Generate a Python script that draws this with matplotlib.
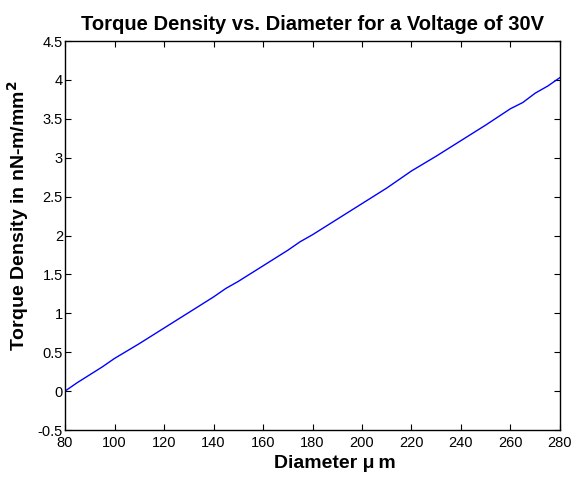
import matplotlib.pyplot as plt

plt.rcParams['font.family'] = ['Liberation Sans', 'DejaVu Sans']

# values
diametro = [80, 85, 90, 95, 100, 110, 120, 130, 140, 145, 150, 160, 170, 175, 180,
            190, 200, 210, 220, 230, 240, 250, 260, 265, 270, 275, 280]
torque = [0.0, 0.11, 0.21, 0.31, 0.42, 0.61, 0.81, 1.01, 1.21, 1.32, 1.41, 1.61, 1.81, 1.92, 2.01,
          2.21, 2.41, 2.61, 2.83, 3.02, 3.22, 3.42, 3.63, 3.71, 3.83, 3.92, 4.03]

fig = plt.figure(figsize=(5.77, 4.78), dpi=100)
ax = fig.add_axes([0.1127, 0.1004, 0.8578, 0.8138])

ax.plot(diametro, torque, color='#0000ff', linewidth=1)

ax.set_xlim(80, 280)
ax.set_ylim(-0.5, 4.5)
ax.set_xticks(range(80, 281, 20))
ax.set_yticks([-0.5, 0, 0.5, 1, 1.5, 2, 2.5, 3, 3.5, 4, 4.5])
ax.set_yticklabels(['-0.5', '0', '0.5', '1', '1.5', '2', '2.5', '3', '3.5', '4', '4.5'])
ax.tick_params(direction='in', top=True, right=True, labelsize=10.5, length=4, width=0.8)
ax.tick_params(axis='x', pad=4)
ax.tick_params(axis='y', pad=1.5)
for s in ax.spines.values():
    s.set_linewidth(1)

ax.set_title('Torque Density vs. Diameter for a Voltage of 30V', fontsize=14.5, fontweight='bold', pad=8)
ax.set_xlabel('Diameter μ\u2009m', fontsize=14, fontweight='bold')
ax.set_ylabel(r'Torque Density in nN-m/mm$^\mathbf{2}$', fontsize=14, fontweight='bold')
ax.xaxis.set_label_coords(0.545, -0.065)
ax.yaxis.set_label_coords(-0.069, 0.55)

fig.savefig('out.png', dpi=100)
